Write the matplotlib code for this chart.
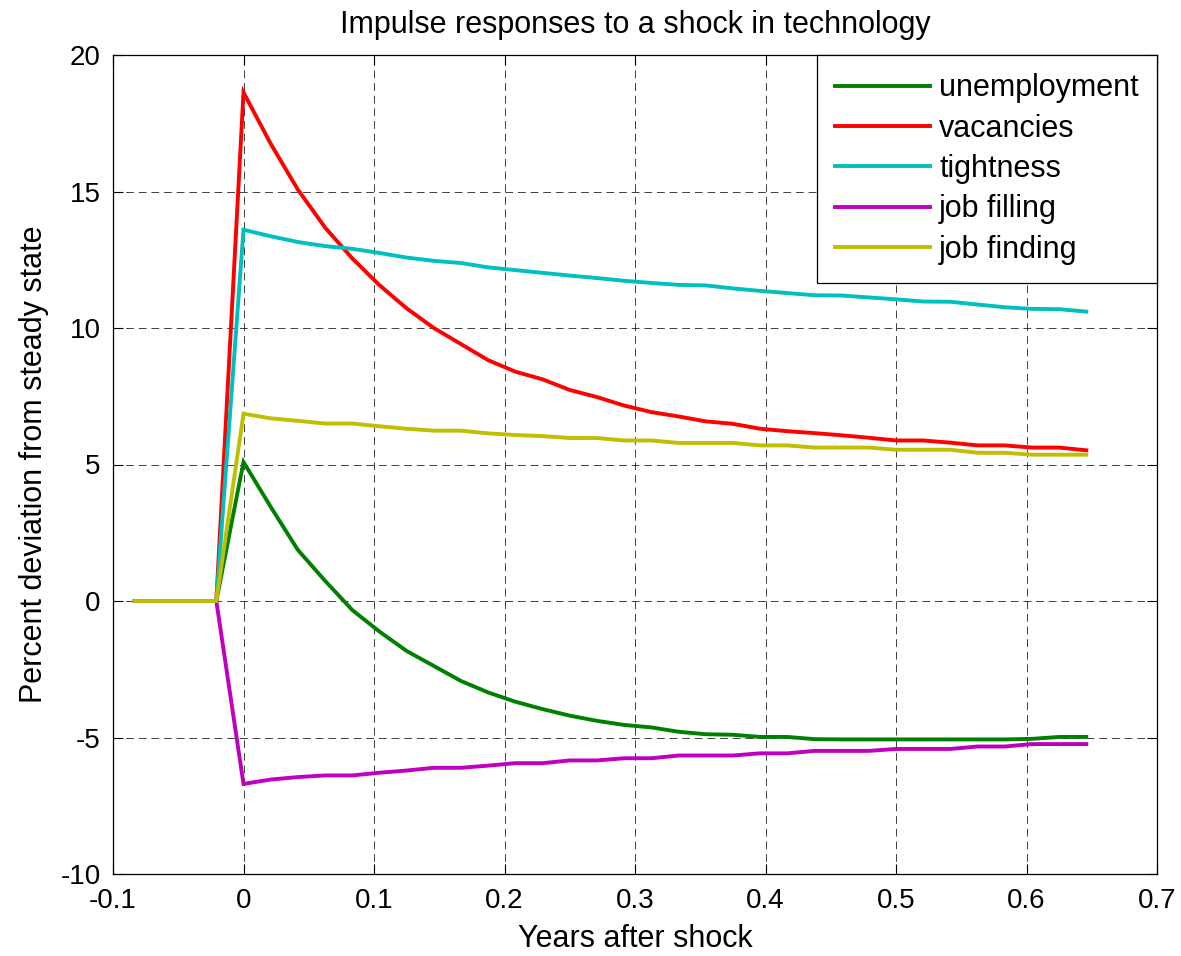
import numpy as np
import matplotlib
matplotlib.use("Agg")
import matplotlib.pyplot as plt

plt.rcParams['font.family'] = ['Liberation Sans', 'DejaVu Sans']
plt.rcParams['axes.unicode_minus'] = False

# time index: weekly steps (k/48 years), k = -4 .. 31
steps = list(range(-4, 32))
periods_per_year = 48

unemployment = [0, 0, 0, 0,
                5.09, 3.45, 1.87, 0.74, -0.33, -1.12, -1.83, -2.38, -2.93, -3.35, -3.69,
                -3.96, -4.2, -4.39, -4.54, -4.63, -4.79, -4.88, -4.9, -4.98, -4.98,
                -5.06, -5.07, -5.07, -5.07, -5.07, -5.07, -5.07, -5.07, -5.05, -4.98, -4.98]
vacancies = [0, 0, 0, 0,
             18.63, 16.75, 15.07, 13.68, 12.55, 11.57, 10.72, 10.0, 9.41, 8.82, 8.4,
             8.12, 7.73, 7.47, 7.16, 6.92, 6.76, 6.58, 6.49, 6.31, 6.22,
             6.15, 6.07, 5.98, 5.88, 5.88, 5.8, 5.7, 5.7, 5.62, 5.62, 5.52]
tightness = [0, 0, 0, 0,
             13.6, 13.36, 13.15, 13.0, 12.9, 12.75, 12.58, 12.46, 12.38, 12.22, 12.12,
             12.02, 11.92, 11.83, 11.73, 11.65, 11.58, 11.56, 11.45, 11.36, 11.28,
             11.2, 11.19, 11.12, 11.05, 10.97, 10.96, 10.86, 10.76, 10.7, 10.69, 10.6]
job_filling = [0, 0, 0, 0,
               -6.7, -6.54, -6.45, -6.39, -6.39, -6.29, -6.21, -6.11, -6.11, -6.03, -5.94,
               -5.94, -5.84, -5.84, -5.76, -5.76, -5.66, -5.66, -5.66, -5.58, -5.58,
               -5.49, -5.49, -5.49, -5.42, -5.42, -5.42, -5.33, -5.33, -5.24, -5.24, -5.24]
job_finding = [0, 0, 0, 0,
               6.86, 6.69, 6.6, 6.5, 6.5, 6.4, 6.31, 6.24, 6.24, 6.14, 6.08,
               6.04, 5.97, 5.97, 5.88, 5.88, 5.79, 5.79, 5.79, 5.7, 5.7,
               5.62, 5.62, 5.62, 5.54, 5.54, 5.54, 5.43, 5.43, 5.36, 5.36, 5.36]

labels = ['unemployment', 'vacancies', 'tightness', 'job filling', 'job finding']
colors = [(0, 0.5, 0), (1, 0, 0), (0, 0.75, 0.75), (0.75, 0, 0.75), (0.75, 0.75, 0)]
xticks = [-0.1, 0, 0.1, 0.2, 0.3, 0.4, 0.5, 0.6, 0.7]
xticklabels = ['-0.1', '0', '0.1', '0.2', '0.3', '0.4', '0.5', '0.6', '0.7']
yticks = [-10, -5, 0, 5, 10, 15, 20]

t = np.array(steps) / periods_per_year
series = [unemployment, vacancies, tightness, job_filling, job_finding]

W, H = 1181, 956
fig = plt.figure(figsize=(W / 100, H / 100), dpi=100)
ax = fig.add_axes([113 / W, 1 - 874 / H, (1157 - 113) / W, (874 - 55) / H])

for y, lab, c in zip(series, labels, colors):
    ax.plot(t, y, color=c, lw=2.8, label=lab, solid_joinstyle='miter')

ax.set_xlim(-0.1, 0.7)
ax.set_ylim(-10, 20)
ax.set_xticks(xticks)
ax.set_xticklabels(xticklabels)
ax.set_yticks(yticks)
ax.tick_params(direction='in', top=True, right=True, labelsize=20, length=7, width=0.8)
ax.tick_params(axis='x', pad=10)
ax.tick_params(axis='y', pad=9)
ax.grid(True, color='black', linestyle=(0, (8, 5)), linewidth=0.7, alpha=0.75)
for s in ax.spines.values():
    s.set_linewidth(0.9)

ax.set_title('Impulse responses to a shock in technology', fontsize=22, pad=16)
ax.set_xlabel('Years after shock', fontsize=22, labelpad=7)
ax.set_ylabel('Percent deviation from steady state', fontsize=22, labelpad=8)

leg = ax.legend(loc='upper right', fontsize=22, frameon=True, fancybox=False,
                edgecolor='black', framealpha=1, borderaxespad=0.0,
                handlelength=3.1, handletextpad=0.3, labelspacing=0.34,
                borderpad=0.6)
leg.get_frame().set_linewidth(0.9)

fig.savefig('out.png', dpi=100, facecolor='white')
